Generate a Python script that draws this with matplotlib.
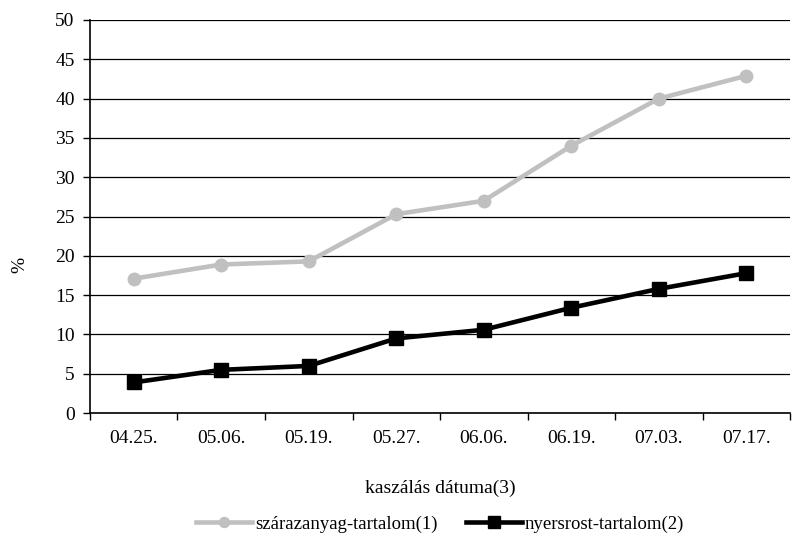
import matplotlib.pyplot as plt
import numpy as np

plt.rcParams["font.family"] = ["Liberation Serif", "DejaVu Serif"]

dates = ["04.25.", "05.06.", "05.19.", "05.27.", "06.06.", "06.19.", "07.03.", "07.17."]
szarazanyag = [17.1, 18.9, 19.3, 25.3, 27.0, 34.0, 40.0, 42.9]
nyersrost = [3.9, 5.5, 6.0, 9.5, 10.6, 13.4, 15.8, 17.8]

fig = plt.figure(figsize=(7.92, 5.40), dpi=100)
ax = fig.add_axes([0.1136, 0.235, 0.884, 0.728])

x = np.arange(len(dates))
ax.plot(x, szarazanyag, color="#c0c0c0", lw=3.3, marker="o", markersize=9,
        label="szárazanyag-tartalom(1)", zorder=3)
ax.plot(x, nyersrost, color="black", lw=3.3, marker="s", markersize=10,
        label="nyersrost-tartalom(2)", zorder=4)

ax.set_xlim(-0.5, len(dates) - 0.5)
ax.set_ylim(0, 50)
ax.set_yticks(np.arange(0, 51, 5))
ax.yaxis.grid(True, color="black", lw=0.9)
ax.set_axisbelow(True)

# category boundaries get the tick marks, labels sit in between
ax.set_xticks(np.arange(-0.5, len(dates), 1.0))
ax.set_xticklabels([])
ax.set_xticks(x, minor=True)
ax.set_xticklabels(dates, minor=True)
ax.tick_params(axis="x", which="minor", length=0, pad=12, labelsize=14)
ax.tick_params(axis="x", which="major", length=5, width=1)
ax.tick_params(axis="y", length=5, width=1, labelsize=14, pad=6)

for side in ["top", "right"]:
    ax.spines[side].set_visible(False)
ax.spines["left"].set_linewidth(1.2)
ax.spines["bottom"].set_linewidth(1.2)

ax.set_ylabel("%", fontsize=14)
ax.yaxis.set_label_coords(-0.088, 0.377)
ax.set_xlabel("kaszálás dátuma(3)", fontsize=14, labelpad=24)

leg = ax.legend(loc="upper center", bbox_to_anchor=(0.5, -0.218), ncol=2, frameon=False,
                fontsize=13.5, handlelength=3.0, handletextpad=0.15, columnspacing=1.5,
                markerscale=0.8)

fig.savefig("out.png", dpi=100)
